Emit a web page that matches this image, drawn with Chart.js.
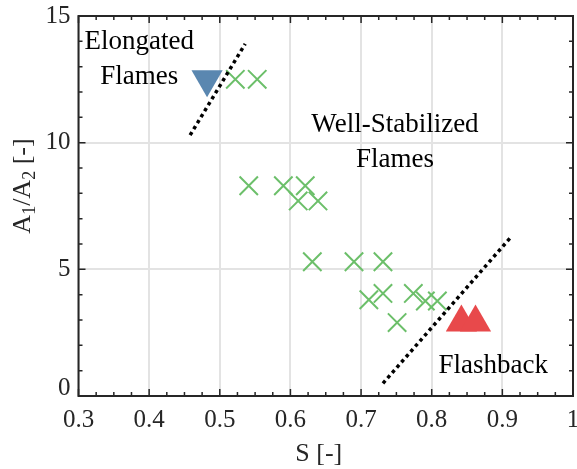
<!DOCTYPE html>
<html lang="en">
<head>
<meta charset="UTF-8">
<title>A1/A2 vs S</title>
<script src="https://cdn.jsdelivr.net/npm/chart.js"></script>
<style>
  html, body { margin: 0; padding: 0; background: #fff; overflow: hidden; }
  #wrap { position: relative; width: 577px; height: 469px; }
  #flameChart { display: block; }
</style>
</head>
<body>
<div id="wrap"><canvas id="flameChart"></canvas></div>
<script>
// swirl number S against area ratio A1/A2
const stableS = [0.522, 0.553, 0.541, 0.590, 0.621, 0.611, 0.639, 0.631, 0.690, 0.731, 0.711, 0.731, 0.774, 0.791, 0.808, 0.751];
const stableA = [12.5, 12.5, 8.3, 8.3, 8.3, 7.7, 7.7, 5.3, 5.3, 5.3, 3.8, 4.05, 4.05, 3.75, 3.75, 2.9];
const elongatedS = [0.482];
const elongatedA = [12.5];
const flashbackS = [0.842, 0.862];
const flashbackA = [2.9, 2.9];
// regime boundaries (dotted)
const upperBoundS = [0.458, 0.536];
const upperBoundA = [10.3, 13.9];
const lowerBoundS = [0.731, 0.913];
const lowerBoundA = [0.5, 6.3];
// axes
const xRange = [0.3, 1.0];
const yRange = [0, 15];
const xTickLabels = ['0.3', '0.4', '0.5', '0.6', '0.7', '0.8', '0.9', '1'];
const yTickLabels = ['0', '5', '10', '15'];
const xStep = 0.1, xMinor = 0.025;
const yStep = 5, yMinor = 1;
const regionLabels = [
  { lines: ['Elongated', 'Flames'], s: 0.386, a: 13.7 },
  { lines: ['Well-Stabilized', 'Flames'], s: 0.748, a: 10.42 },
  { lines: ['Flashback'], s: 0.887, a: 0.91 }
];

const serif = '"Liberation Serif", "Times New Roman", serif';
const ink = '#262626';

function pts(xs, ys) {
  return xs.map((x, i) => ({ x: x, y: ys[i] }));
}

// box, inward ticks, tick labels, titles and region labels
const framePlugin = {
  id: 'frame',
  afterDraw(chart) {
    const ctx = chart.ctx;
    const a = chart.chartArea;
    const xs = chart.scales.x, ys = chart.scales.y;
    ctx.save();
    ctx.strokeStyle = ink;
    ctx.lineWidth = 1.5;
    ctx.beginPath();
    const nx = Math.round((xRange[1] - xRange[0]) / xMinor);
    for (let i = 0; i <= nx; i++) {
      const px = xs.getPixelForValue(xRange[0] + i * xMinor);
      const len = i % 4 === 0 ? 7 : 4;
      ctx.moveTo(px, a.bottom); ctx.lineTo(px, a.bottom - len);
      ctx.moveTo(px, a.top); ctx.lineTo(px, a.top + len);
    }
    const ny = Math.round((yRange[1] - yRange[0]) / yMinor);
    for (let i = 0; i <= ny; i++) {
      const py = ys.getPixelForValue(yRange[0] + i * yMinor);
      const len = i % 5 === 0 ? 7 : 4;
      ctx.moveTo(a.left, py); ctx.lineTo(a.left + len, py);
      ctx.moveTo(a.right, py); ctx.lineTo(a.right - len, py);
    }
    ctx.stroke();
    ctx.lineWidth = 2;
    ctx.strokeRect(a.left, a.top, a.right - a.left, a.bottom - a.top);

    // tick labels
    ctx.fillStyle = ink;
    ctx.font = '25px ' + serif;
    ctx.textAlign = 'center';
    ctx.textBaseline = 'alphabetic';
    xTickLabels.forEach((t, i) => {
      ctx.fillText(t, xs.getPixelForValue(xRange[0] + i * xStep), a.bottom + 31);
    });
    ctx.textAlign = 'right';
    ctx.textBaseline = 'middle';
    yTickLabels.forEach((t, i) => {
      const py = ys.getPixelForValue(yRange[0] + i * yStep);
      ctx.fillText(t, a.left - 8, i === 0 ? py - 8 : py);
    });

    // x title
    ctx.font = '26px ' + serif;
    ctx.textAlign = 'center';
    ctx.textBaseline = 'alphabetic';
    ctx.fillText('S [-]', (a.left + a.right) / 2 - 7, a.bottom + 65);

    // region labels
    ctx.fillStyle = '#000';
    ctx.font = '27px ' + serif;
    regionLabels.forEach(r => {
      const px = xs.getPixelForValue(r.s);
      const py = ys.getPixelForValue(r.a);
      r.lines.forEach((t, k) => ctx.fillText(t, px, py + k * 35));
    });

    // y title with subscripts
    ctx.translate(30, 186);
    ctx.rotate(-Math.PI / 2);
    ctx.fillStyle = ink;
    ctx.textAlign = 'left';
    const parts = [['A', 0], ['1', 1], ['/A', 0], ['2', 1], [' [-]', 0]];
    let w = 0;
    parts.forEach(p => {
      ctx.font = (p[1] ? '18px ' : '26px ') + serif;
      w += ctx.measureText(p[0]).width;
    });
    let cx = -w / 2;
    parts.forEach(p => {
      ctx.font = (p[1] ? '18px ' : '26px ') + serif;
      ctx.fillText(p[0], cx, p[1] ? 5 : 0);
      cx += ctx.measureText(p[0]).width;
    });
    ctx.restore();
  }
};

const ctx = document.getElementById('flameChart').getContext('2d');
new Chart(ctx, {
  type: 'scatter',
  data: {
    datasets: [
      {
        label: 'upper boundary',
        data: pts(upperBoundS, upperBoundA),
        showLine: true,
        borderColor: '#000',
        borderWidth: 3.5,
        borderDash: [3.5, 3.5],
        pointRadius: 0
      },
      {
        label: 'lower boundary',
        data: pts(lowerBoundS, lowerBoundA),
        showLine: true,
        borderColor: '#000',
        borderWidth: 3.5,
        borderDash: [3.5, 3.5],
        pointRadius: 0
      },
      {
        label: 'Elongated',
        data: pts(elongatedS, elongatedA),
        pointStyle: 'triangle',
        rotation: 180,
        pointRadius: 18,
        backgroundColor: '#5a87b0',
        borderWidth: 0
      },
      {
        label: 'Flashback',
        data: pts(flashbackS, flashbackA),
        pointStyle: 'triangle',
        pointRadius: 18,
        backgroundColor: '#e8494b',
        borderWidth: 0
      },
      {
        label: 'Well-stabilized',
        data: pts(stableS, stableA),
        pointStyle: 'crossRot',
        pointRadius: 13,
        borderColor: '#6cbf6a',
        borderWidth: 2
      }
    ]
  },
  options: {
    responsive: true,
    maintainAspectRatio: false,
    animation: false,
    layout: { autoPadding: false, padding: { top: 16, right: 4, left: 0, bottom: 0 } },
    plugins: {
      legend: { display: false },
      tooltip: { enabled: false }
    },
    scales: {
      x: {
        min: xRange[0],
        max: xRange[1],
        ticks: { stepSize: xStep, display: false },
        grid: { color: '#e3e3e3', lineWidth: 2, drawTicks: false },
        border: { display: false },
        afterFit(scale) {
          scale.height = 73;
        }
      },
      y: {
        min: yRange[0],
        max: yRange[1],
        ticks: { stepSize: yStep, display: false },
        grid: { color: '#e3e3e3', lineWidth: 2, drawTicks: false },
        border: { display: false },
        afterFit(scale) {
          scale.width = 78.5;
        }
      }
    }
  },
  plugins: [framePlugin]
});
</script>
</body>
</html>
